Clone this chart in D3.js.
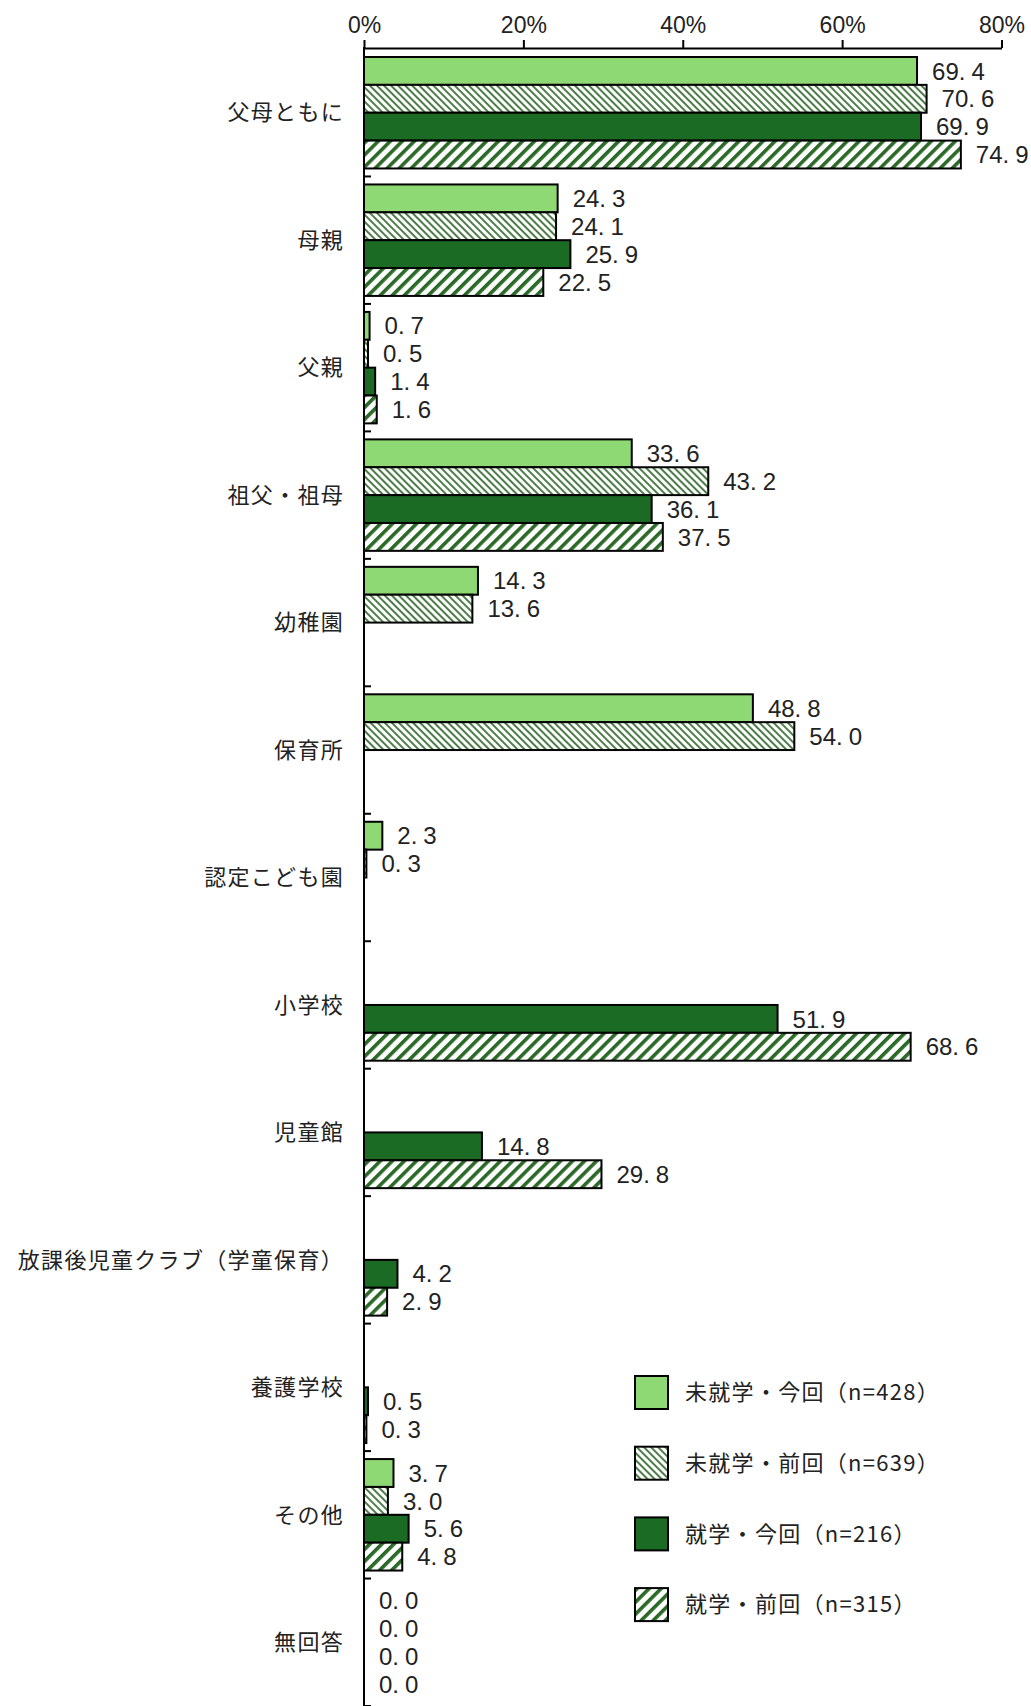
<!DOCTYPE html>
<html>
<head>
<meta charset="utf-8">
<script src="https://d3js.org/d3.v7.min.js"></script>
<style>
  body { margin: 0; background: #fff; }
  text { font-family: "Noto Sans CJK JP", "Noto Sans", sans-serif; fill: #222; }
  .num { font-family: "Liberation Sans Narrow", "Liberation Sans", sans-serif; }
</style>
</head>
<body>
<div id="chart"></div>
<script>
// categories (top to bottom)
var categories = ["父母ともに", "母親", "父親", "祖父・祖母", "幼稚園", "保育所", "認定こども園",
    "小学校", "児童館", "放課後児童クラブ（学童保育）", "養護学校", "その他", "無回答"];

// null = not asked for that group
var miShuKon = [69.4, 24.3, 0.7, 33.6, 14.3, 48.8, 2.3, null, null, null, null, 3.7, 0.0];
var miShuZen = [70.6, 24.1, 0.5, 43.2, 13.6, 54.0, 0.3, null, null, null, null, 3.0, 0.0];
var shuKon   = [69.9, 25.9, 1.4, 36.1, null, null, null, 51.9, 14.8, 4.2, 0.5, 5.6, 0.0];
var shuZen   = [74.9, 22.5, 1.6, 37.5, null, null, null, 68.6, 29.8, 2.9, 0.3, 4.8, 0.0];

var seriesNames = ["未就学・今回（n=428）", "未就学・前回（n=639）", "就学・今回（n=216）", "就学・前回（n=315）"];
var xTicks = [0, 20, 40, 60, 80];

var series = [miShuKon, miShuZen, shuKon, shuZen];
var fills = ["#8fd975", "url(#hatchFine)", "#1b6b25", "url(#hatchWide)"];

var width = 1031,
    height = 1706;

var svg = d3.select("#chart")
    .append("svg")
    .attr("width", width)
    .attr("height", height);

var defs = svg.append("defs");

var p1 = defs.append("pattern")
    .attr("id", "hatchFine")
    .attr("patternUnits", "userSpaceOnUse")
    .attr("width", 5).attr("height", 5)
    .attr("patternTransform", "rotate(-45)");
p1.append("rect").attr("width", 5).attr("height", 5).attr("fill", "#fff");
p1.append("rect").attr("width", 2).attr("height", 5).attr("fill", "#4d7d48");

var p2 = defs.append("pattern")
    .attr("id", "hatchWide")
    .attr("patternUnits", "userSpaceOnUse")
    .attr("width", 8.5).attr("height", 8.5)
    .attr("patternTransform", "rotate(45)");
p2.append("rect").attr("width", 8.5).attr("height", 8.5).attr("fill", "#fff");
p2.append("rect").attr("width", 3.6).attr("height", 8.5).attr("fill", "#2a6a26");

var x = d3.scaleLinear()
    .domain([0, 80])
    .range([364, 1001.5]);

var y = d3.scaleBand()
    .domain(categories)
    .range([49, 1706]);

var ySub = d3.scaleBand()
    .domain(d3.range(4))
    .range([8, y.bandwidth() - 8]);

// top axis
var xAxis = svg.append("g")
    .attr("transform", "translate(0,48)")
    .call(d3.axisTop(x).tickValues(xTicks).tickFormat(function(d) { return d + "%"; })
        .tickSize(8).tickSizeOuter(0).tickPadding(7));
xAxis.select(".domain").attr("stroke", "#000").attr("stroke-width", 2);
xAxis.selectAll(".tick line").attr("stroke", "#000").attr("stroke-width", 2);
xAxis.selectAll(".tick text")
    .attr("class", "num")
    .style("font-size", "23px")
    .attr("fill", "#222");

// bars
var barData = [];
series.forEach(function(s, si) {
    s.forEach(function(v, ci) {
        if (v !== null) barData.push({ cat: categories[ci], s: si, v: v });
    });
});

svg.append("g").selectAll("rect")
    .data(barData)
    .enter().append("rect")
    .attr("x", x(0))
    .attr("y", function(d) { return y(d.cat) + ySub(d.s); })
    .attr("width", function(d) { return x(d.v) - x(0); })
    .attr("height", ySub.bandwidth())
    .attr("fill", function(d) { return fills[d.s]; })
    .attr("stroke", function(d) { return d.v > 0 ? "#000" : "none"; })
    .attr("stroke-width", 2);

// value labels, "69. 4" style
var lab = svg.append("g").selectAll("text")
    .data(barData)
    .enter().append("text")
    .attr("class", "num")
    .attr("x", function(d) { return x(d.v) + 15; })
    .attr("y", function(d) { return y(d.cat) + ySub(d.s) + ySub.bandwidth() / 2; })
    .attr("dy", "0.36em")
    .style("font-size", "24px");
lab.append("tspan").text(function(d) { return d.v.toFixed(1).split(".")[0] + "."; });
lab.append("tspan").attr("dx", 6).text(function(d) { return d.v.toFixed(1).split(".")[1]; });

// left axis line + ticks at category boundaries
svg.append("line")
    .attr("x1", x(0)).attr("x2", x(0))
    .attr("y1", 47).attr("y2", height)
    .attr("stroke", "#000").attr("stroke-width", 2);

svg.append("g").selectAll("line")
    .data(categories)
    .enter().append("line")
    .attr("x1", x(0)).attr("x2", x(0) + 7)
    .attr("y1", function(d) { return y(d) + y.bandwidth(); })
    .attr("y2", function(d) { return y(d) + y.bandwidth(); })
    .attr("stroke", "#000").attr("stroke-width", 2);

// category labels
svg.append("g").selectAll("text")
    .data(categories)
    .enter().append("text")
    .attr("x", 344)
    .attr("y", function(d) { return y(d) + y.bandwidth() / 2; })
    .attr("dy", "0.35em")
    .attr("text-anchor", "end")
    .style("font-size", "22px")
    .style("letter-spacing", "1.3px")
    .text(function(d) { return d; });

// legend
var legend = svg.append("g")
    .selectAll("g")
    .data(seriesNames)
    .enter().append("g")
    .attr("transform", function(d, i) { return "translate(635," + (1376 + i * 70.7) + ")"; });

legend.append("rect")
    .attr("width", 33).attr("height", 33)
    .attr("fill", function(d, i) { return fills[i]; })
    .attr("stroke", "#000").attr("stroke-width", 2);

legend.append("text")
    .attr("x", 50)
    .attr("y", 16.5)
    .attr("dy", "0.35em")
    .style("font-size", "22px")
    .style("letter-spacing", "1.3px")
    .text(function(d) { return d; });
</script>
</body>
</html>
